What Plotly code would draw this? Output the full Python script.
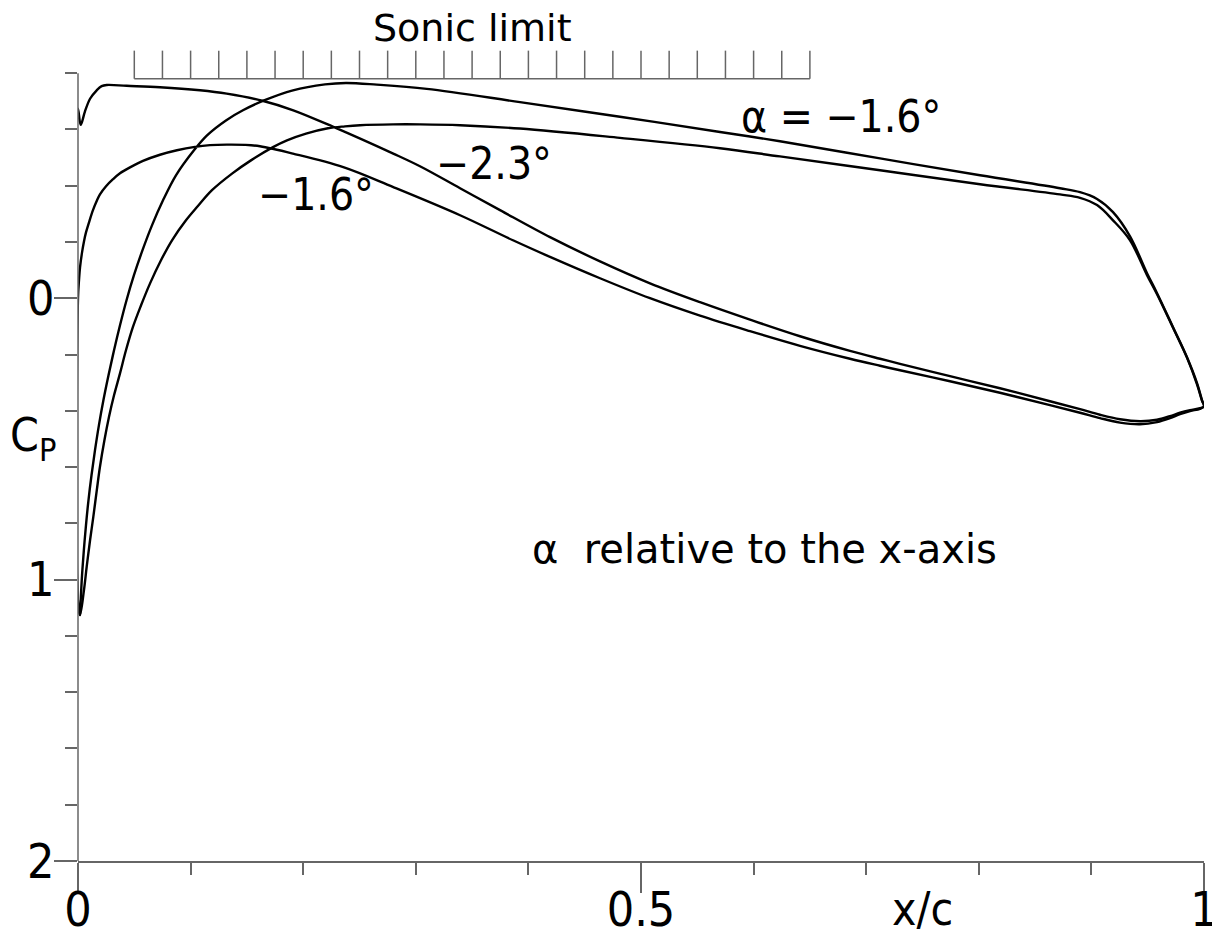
import plotly.graph_objects as go

# Pressure distributions, Cp versus x/c (negative Cp plotted upward)
# alpha = -1.6 deg
lower_16_x = [0.0, 0.0009, 0.0018, 0.0036, 0.0053, 0.0071, 0.0098, 0.0133, 0.0169, 0.0195,
              0.0249, 0.0311, 0.0373, 0.0462, 0.0577, 0.0728, 0.0879, 0.1039, 0.1172, 0.1323,
              0.1483, 0.1616, 0.1909, 0.2356, 0.28, 0.3393, 0.3863, 0.4192, 0.4636, 0.508,
              0.5524, 0.5968, 0.6412, 0.6856, 0.7123, 0.73, 0.7744, 0.8188, 0.8632, 0.8899,
              0.9076, 0.9254, 0.9432, 0.9583, 0.9698, 0.9787, 0.9876, 0.9964, 1.0]
lower_16_cp = [0.0, -0.064, -0.11, -0.163, -0.202, -0.234, -0.27, -0.313, -0.348, -0.369,
               -0.398, -0.423, -0.444, -0.465, -0.488, -0.51, -0.526, -0.538, -0.544, -0.546,
               -0.545, -0.54, -0.514, -0.466, -0.395, -0.295, -0.206, -0.147, -0.071, 0.0,
               0.062, 0.117, 0.169, 0.215, 0.24, 0.256, 0.295, 0.336, 0.38, 0.407,
               0.426, 0.442, 0.448, 0.44, 0.426, 0.412, 0.401, 0.393, 0.384]
upper_16_x = [0.0, 0.0018, 0.0024, 0.0036, 0.0052, 0.0071, 0.0093, 0.012, 0.0151, 0.0186,
              0.0226, 0.0271, 0.032, 0.0373, 0.0431, 0.0497, 0.0573, 0.0657, 0.0755, 0.087,
              0.103, 0.1146, 0.1314, 0.1465, 0.1652, 0.1909, 0.2194, 0.238, 0.2653, 0.3097,
              0.3925, 0.4813, 0.5702, 0.6234, 0.7123, 0.8011, 0.8721, 0.8899, 0.905, 0.9192,
              0.9343, 0.9494, 0.9583, 0.9725, 0.9849, 0.9938, 0.9982, 1.0]
upper_16_cp = [1.08, 1.126, 1.073, 0.984, 0.895, 0.806, 0.718, 0.629, 0.54, 0.451,
               0.362, 0.274, 0.185, 0.096, 0.007, -0.082, -0.171, -0.259, -0.348, -0.437,
               -0.526, -0.579, -0.632, -0.668, -0.703, -0.739, -0.76, -0.765, -0.759, -0.744,
               -0.697, -0.645, -0.591, -0.558, -0.497, -0.437, -0.391, -0.377, -0.353, -0.306,
               -0.22, -0.089, -0.018, 0.103, 0.21, 0.302, 0.362, 0.384]

# alpha = -2.3 deg
lower_23_x = [0.0, 0.0024, 0.0062, 0.0107, 0.0166, 0.021, 0.0255, 0.0432, 0.0728, 0.1083,
              0.1321, 0.1646, 0.1912, 0.2268, 0.28, 0.3037, 0.3393, 0.3748, 0.4192, 0.4636,
              0.508, 0.5524, 0.5968, 0.6412, 0.6856, 0.7123, 0.73, 0.7744, 0.8188, 0.8632,
              0.8899, 0.9076, 0.9254, 0.9432, 0.9583, 0.9698, 0.9787, 0.9876, 0.9964, 1.0]
lower_23_cp = [-0.674, -0.616, -0.664, -0.709, -0.739, -0.754, -0.758, -0.755, -0.75, -0.739,
               -0.727, -0.701, -0.668, -0.609, -0.514, -0.469, -0.391, -0.313, -0.217, -0.131,
               -0.053, 0.014, 0.076, 0.135, 0.187, 0.215, 0.233, 0.277, 0.32, 0.366,
               0.394, 0.414, 0.43, 0.437, 0.432, 0.419, 0.407, 0.398, 0.391, 0.384]
upper_23_x = [0.0, 0.0018, 0.0053, 0.0077, 0.0107, 0.0136, 0.0167, 0.0195, 0.0235, 0.0275,
              0.032, 0.0373, 0.0426, 0.0488, 0.056, 0.0639, 0.0737, 0.0835, 0.0959, 0.1057,
              0.119, 0.1368, 0.1536, 0.1732, 0.1856, 0.2025, 0.222, 0.2371, 0.2504, 0.2798,
              0.3037, 0.3393, 0.3925, 0.4813, 0.5702, 0.6234, 0.7123, 0.8011, 0.8721, 0.8899,
              0.905, 0.9192, 0.9343, 0.9494, 0.9583, 0.9725, 0.9849, 0.9938, 0.9982, 1.0]
upper_23_cp = [1.08, 1.126, 1.037, 0.955, 0.86, 0.777, 0.682, 0.599, 0.504, 0.422,
               0.345, 0.267, 0.185, 0.102, 0.025, -0.052, -0.135, -0.206, -0.277, -0.324,
               -0.384, -0.443, -0.49, -0.537, -0.561, -0.585, -0.604, -0.611, -0.615, -0.618,
               -0.618, -0.615, -0.603, -0.57, -0.533, -0.504, -0.455, -0.405, -0.369, -0.357,
               -0.331, -0.277, -0.206, -0.082, -0.014, 0.105, 0.211, 0.306, 0.364, 0.384]

# Sonic limit comb
sonic_cp = -0.78
sonic_x_start, sonic_x_end, sonic_step = 0.05, 0.65, 0.025
sonic_tick_height = 0.1

CP_RANGE = [2.0, -0.9]
LINE = "black"
AXIS = "#666666"
FONT_TXT = "DejaVu Sans"
FONT_NUM = "DejaVu Sans Condensed, DejaVu Sans, sans-serif"


def cp_to_paper(cp):
    """Vertical paper coordinate for a Cp value on the reversed axis."""
    return (CP_RANGE[0] - cp) / (CP_RANGE[0] - CP_RANGE[1])


fig = go.Figure()

for lx, lcp, ux, ucp in [(lower_16_x, lower_16_cp, upper_16_x, upper_16_cp),
                         (lower_23_x, lower_23_cp, upper_23_x, upper_23_cp)]:
    xs = lx[::-1] + ux
    ys = lcp[::-1] + ucp
    fig.add_trace(go.Scatter(x=xs, y=ys, mode="lines",
                             line=dict(color=LINE, width=2.4, shape="spline", smoothing=1.0),
                             hoverinfo="skip"))

n_sonic = int(round((sonic_x_end - sonic_x_start) / sonic_step)) + 1
sx, sy = [sonic_x_start, sonic_x_end, None], [sonic_cp, sonic_cp, None]
for i in range(n_sonic):
    xv = sonic_x_start + i * sonic_step
    sx += [xv, xv, None]
    sy += [sonic_cp, sonic_cp - sonic_tick_height, None]
fig.add_trace(go.Scatter(x=sx, y=sy, mode="lines", line=dict(color=AXIS, width=1.5),
                         hoverinfo="skip"))

# vertical Cp axis line spanning the labelled range
fig.add_shape(type="line", xref="paper", yref="y", x0=0, x1=0, y0=-0.8, y1=2.0,
              line=dict(color=AXIS, width=1.5))

annotations = [
    # inside the plotting area (data coordinates)
    dict(text="α  relative to the x-axis", x=0.61, y=0.89, xref="x", yref="y",
         font=dict(family=FONT_TXT, size=40)),
    dict(text="−1.6°", x=0.2114, y=-0.37, xref="x", yref="y",
         font=dict(family=FONT_NUM, size=44)),
    dict(text="−2.3°", x=0.3694, y=-0.48, xref="x", yref="y",
         font=dict(family=FONT_NUM, size=44)),
    dict(text="α = −1.6°", x=0.6776, y=-0.645, xref="x", yref="y",
         font=dict(family=FONT_NUM, size=44)),
    # outside the plotting area (paper coordinates)
    dict(text="Sonic limit", x=0.35, y=cp_to_paper(-0.96), xref="paper", yref="paper",
         font=dict(family=FONT_TXT, size=38)),
    dict(text="x/c", x=0.75, y=cp_to_paper(2.17), xref="paper", yref="paper",
         font=dict(family=FONT_NUM, size=46)),
    dict(text="C<sub>P</sub>", x=-0.04, y=cp_to_paper(0.5), xref="paper", yref="paper",
         font=dict(family=FONT_NUM, size=46)),
]
for a in annotations:
    a.update(showarrow=False, xanchor="center", yanchor="middle")
    a["font"]["color"] = "black"

fig.update_layout(
    width=1212, height=934,
    margin=dict(l=78, r=8, t=45, b=73),
    paper_bgcolor="white", plot_bgcolor="white",
    showlegend=False,
    annotations=annotations,
    xaxis=dict(range=[0, 1], showgrid=False, zeroline=False, automargin=False,
               showline=True, linecolor=AXIS, linewidth=1.5,
               ticks="outside", tick0=0, dtick=0.5, ticklen=30, tickwidth=1.5, tickcolor=AXIS,
               minor=dict(ticks="outside", dtick=0.1, ticklen=12, tickwidth=1.5, tickcolor=AXIS),
               ticklabeloverflow="allow", ticklabelstandoff=-24,
               tickfont=dict(family=FONT_NUM, size=48, color="black")),
    yaxis=dict(range=CP_RANGE, showgrid=False, zeroline=False, showline=False, automargin=False,
               ticks="outside", tick0=0, dtick=1, ticklen=23, tickwidth=1.5, tickcolor=AXIS,
               minor=dict(ticks="outside", dtick=0.2, ticklen=12, tickwidth=1.5, tickcolor=AXIS),
               ticklabeloverflow="allow", ticklabelstandoff=-10,
               tickfont=dict(family=FONT_NUM, size=48, color="black")),
)

fig.write_html("out.html")
